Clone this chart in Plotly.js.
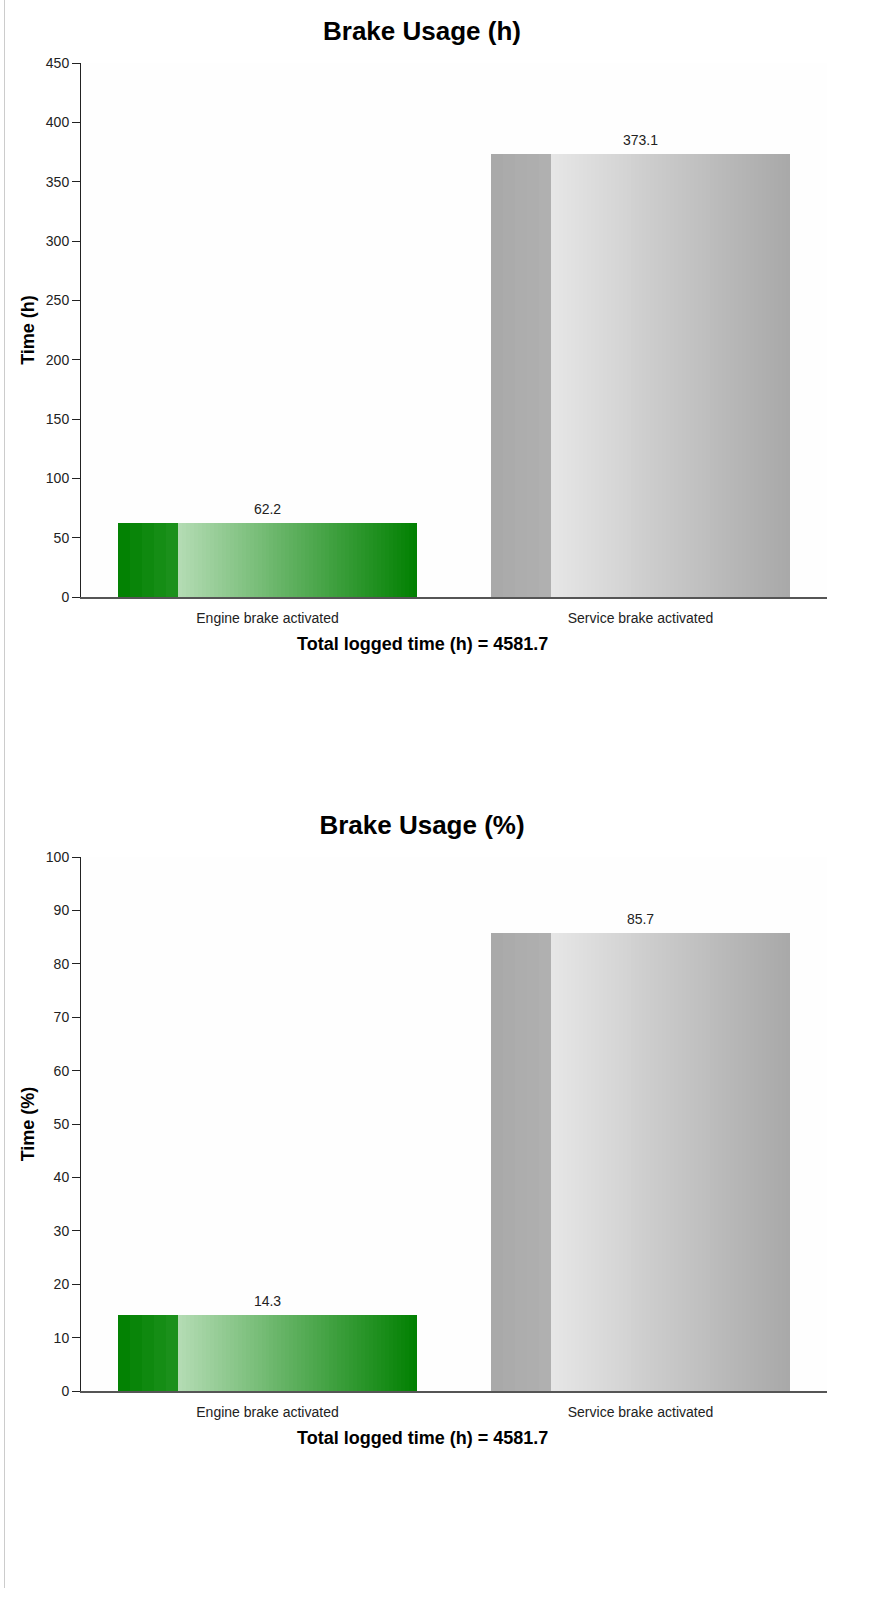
<!DOCTYPE html>
<html>
<head>
<meta charset="utf-8">
<script src="https://cdn.plot.ly/plotly-3.0.1.min.js"></script>
<style>
  html, body { margin: 0; padding: 0; background: #ffffff; }
  #wrap { position: absolute; left: 4px; top: 0; width: 881px; border-left: 1px solid #cccccc; }
  .chart { width: 881px; height: 794px; }
  .js-plotly-plot .plotly .bars path { shape-rendering: crispEdges; }
</style>
</head>
<body>
<div id="wrap">
  <div id="chartHours" class="chart"></div>
  <div id="chartPercent" class="chart"></div>
</div>
<script>
// ---- data ----
const categories = ['Engine brake activated', 'Service brake activated'];
const hoursValues = [62.2, 373.1];
const percentValues = [14.3, 85.7];
const hoursLabels = ['62.2', '373.1'];
const percentLabels = ['14.3', '85.7'];
const totalLoggedHours = '4581.7';

// ---- style helpers ----
const FONT = 'Liberation Sans, Arial, sans-serif';
function mix(a, b, t) {
  const c = a.map((v, i) => Math.round(v + (b[i] - v) * t));
  return 'rgb(' + c.join(',') + ')';
}
const GREEN_DARK = [[0, 128, 0], [30, 146, 30]];
const GREEN_MAIN = [[180, 220, 180], [0, 128, 0]];
const GRAY_DARK = [[168, 168, 168], [177, 177, 177]];
const GRAY_MAIN = [[231, 231, 231], [168, 168, 168]];

function sliceTraces(values) {
  const traces = [];
  const barW = 0.8, start = -0.4;
  const segs = [
    {from: 0, len: 0.2, n: 5, g: GREEN_DARK, s: GRAY_DARK},
    {from: 0.2, len: 0.8, n: 60, g: GREEN_MAIN, s: GRAY_MAIN}
  ];
  segs.forEach((seg, si) => {
    const w = seg.len * barW / seg.n;
    for (let i = 0; i < seg.n; i++) {
      const t = (i + 0.5) / seg.n;
      const isLast = (si === segs.length - 1 && i === seg.n - 1);
      traces.push({
        type: 'bar',
        x: categories,
        y: values,
        offset: start + seg.from * barW + i * w,
        width: isLast ? w : w * 1.7,
        marker: {color: [mix(seg.g[0], seg.g[1], t), mix(seg.s[0], seg.s[1], t)], line: {width: 0}},
        hoverinfo: 'skip',
        showlegend: false
      });
    }
  });
  return traces;
}

function makeChart(id, values, labels, title, yTitle, yMax, dtick) {
  const traces = sliceTraces(values);
  traces.push({
    type: 'scatter',
    mode: 'markers+text',
    x: categories,
    y: values,
    text: labels,
    textposition: 'top center',
    marker: {size: 7, color: 'rgba(0,0,0,0)'},
    textfont: {family: FONT, size: 14, color: '#222222'},
    hoverinfo: 'skip',
    showlegend: false,
    cliponaxis: false
  });
  const layout = {
    width: 881,
    height: 794,
    margin: {l: 76, r: 59, t: 63, b: 196.5},
    paper_bgcolor: '#ffffff',
    plot_bgcolor: '#fefefe',
    barmode: 'overlay',
    showlegend: false,
    font: {family: FONT, size: 14, color: '#222222'},
    title: {
      text: '<b>' + title + '</b>',
      font: {family: FONT, size: 26, color: '#000000'},
      xref: 'container', x: 417 / 881, xanchor: 'center',
      yref: 'container', y: 1 - 31 / 794, yanchor: 'middle'
    },
    xaxis: {
      type: 'category',
      range: [-0.5, 1.5],
      showline: true, linecolor: '#555555', linewidth: 2,
      ticks: 'outside', ticklen: 7, tickcolor: 'rgba(0,0,0,0)',
      tickfont: {family: FONT, size: 14, color: '#222222'},
      showgrid: false, zeroline: false, fixedrange: true
    },
    xaxis2: {
      overlaying: 'x', anchor: 'y', side: 'bottom',
      range: [-0.5, 1.5],
      tickmode: 'array', tickvals: [-0.5, 0.5],
      ticks: 'outside', ticklen: 10, tickwidth: 1, tickcolor: '#444444',
      showticklabels: false, showline: false, showgrid: false, zeroline: false
    },
    yaxis: {
      range: [0, yMax],
      dtick: dtick,
      showline: true, linecolor: '#222222', linewidth: 1,
      ticks: 'outside', ticklen: 8, tickcolor: '#222222',
      tickfont: {family: FONT, size: 14, color: '#222222'},
      showgrid: false, zeroline: false,
      title: {text: '<b>' + yTitle + '</b>', font: {family: FONT, size: 18, color: '#000000'}, standoff: 6}
    },
    annotations: [{
      text: '<b>Total logged time (h) = ' + totalLoggedHours + '</b>',
      xref: 'paper', yref: 'paper',
      x: (422 - 81) / 746, y: (597.5 - 644.5) / 534.5,
      xanchor: 'center', yanchor: 'middle',
      showarrow: false,
      font: {family: FONT, size: 18, color: '#000000'}
    }]
  };
  Plotly.newPlot(id, traces, layout, {displayModeBar: false});
}

makeChart('chartHours', hoursValues, hoursLabels, 'Brake Usage (h)', 'Time (h)', 450, 50);
makeChart('chartPercent', percentValues, percentLabels, 'Brake Usage (%)', 'Time (%)', 100, 10);
</script>
</body>
</html>
